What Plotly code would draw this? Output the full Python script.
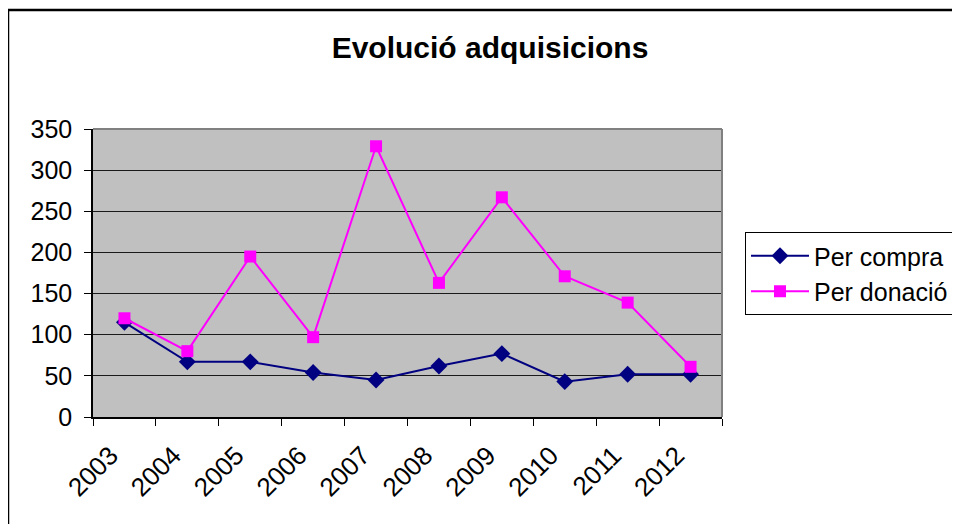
import plotly.graph_objects as go

years = ["2003", "2004", "2005", "2006", "2007", "2008", "2009", "2010", "2011", "2012"]
per_compra = [115, 67, 67, 54, 45, 62, 77, 43, 52, 52]
per_donacio = [120, 80, 195, 97, 329, 163, 267, 171, 139, 61]
y_ticks = [0, 50, 100, 150, 200, 250, 300, 350]

FONT = "Liberation Sans, Arial, sans-serif"

label_shift = 0.22  # year labels sit slightly left of category centres
label_pos = [i - label_shift for i in range(len(years))]

fig = go.Figure()
fig.add_trace(go.Scatter(
    x=years, y=per_compra, name="Per compra", mode="lines+markers",
    line=dict(color="#000080", width=2),
    marker=dict(symbol="diamond", size=13, color="#000080"),
))
fig.add_trace(go.Scatter(
    x=years, y=per_donacio, name="Per donació", mode="lines+markers",
    line=dict(color="#FF00FF", width=2),
    marker=dict(symbol="square", size=12, color="#FF00FF"),
))
# invisible helper trace so the label axis is drawn
fig.add_trace(go.Scatter(
    x=label_pos, y=per_compra, xaxis="x2", mode="markers",
    marker=dict(opacity=0), showlegend=False, hoverinfo="skip",
))

OFF = 8  # page body margin
W, H = 960 - OFF, 524 - OFF
L, T = 93 - OFF, 129 - OFF
R = W - (722 - OFF)
B = H - (417 - OFF)
pw = W - L - R
ph = H - T - B

def px_x(x):
    return (x - OFF - L) / pw

def px_y(y):
    return (H - B - (y - OFF)) / ph

fig.update_layout(
    width=W, height=H,
    margin=dict(l=L, r=R, t=T, b=B, pad=0, autoexpand=False),
    paper_bgcolor="white",
    plot_bgcolor="#C0C0C0",
    font=dict(family=FONT, size=25, color="black"),
    title=dict(text="<b>Evolució adquisicions</b>", xref="container",
               x=(490 - OFF) / W, xanchor="center",
               y=1 - (47 - OFF) / H, yanchor="middle",
               font=dict(family=FONT, size=30, color="black")),
    showlegend=True,
    legend=dict(
        x=px_x(745), y=px_y(232), xanchor="left", yanchor="top",
        bordercolor="black", borderwidth=1, bgcolor="white",
        font=dict(family=FONT, size=25, color="black"),
        tracegroupgap=0, itemwidth=58,
    ),
    xaxis=dict(
        type="category", range=[-0.5, 9.5], tickson="boundaries",
        ticks="outside", ticklen=7, tickcolor="black", tickwidth=1,
        showline=True, linecolor="black", linewidth=1.5,
        showgrid=False, showticklabels=False,
        mirror=False, zeroline=False,
    ),
    xaxis2=dict(
        overlaying="x", anchor="y", side="bottom", type="linear",
        range=[-0.5, 9.5], tickmode="array", tickvals=label_pos, ticktext=years,
        ticks="", showline=False, showgrid=False, zeroline=False,
        tickangle=-45, ticklabelstandoff=17,
        tickfont=dict(family=FONT, size=26, color="black"),
    ),
    yaxis=dict(
        range=[0, 350], tickvals=y_ticks, ticks="outside", ticklen=7,
        tickcolor="black", tickwidth=1,
        showline=True, linecolor="black", linewidth=1.5,
        showgrid=True, gridcolor="#1a1a1a", gridwidth=1,
        zeroline=False, ticklabelstandoff=7,
        tickfont=dict(family=FONT, size=25, color="black"),
    ),
    shapes=[
        dict(type="line", xref="paper", yref="paper", x0=0, x1=1, y0=1, y1=1,
             line=dict(color="#808080", width=2)),
        dict(type="line", xref="paper", yref="paper", x0=1, x1=1, y0=0, y1=1,
             line=dict(color="#808080", width=2)),
        dict(type="rect", xref="paper", yref="paper",
             x0=px_x(8), x1=px_x(975), y0=px_y(10), y1=px_y(540),
             line=dict(color="black", width=2.5), layer="above"),
    ],
)

fig.write_html("out.html")
